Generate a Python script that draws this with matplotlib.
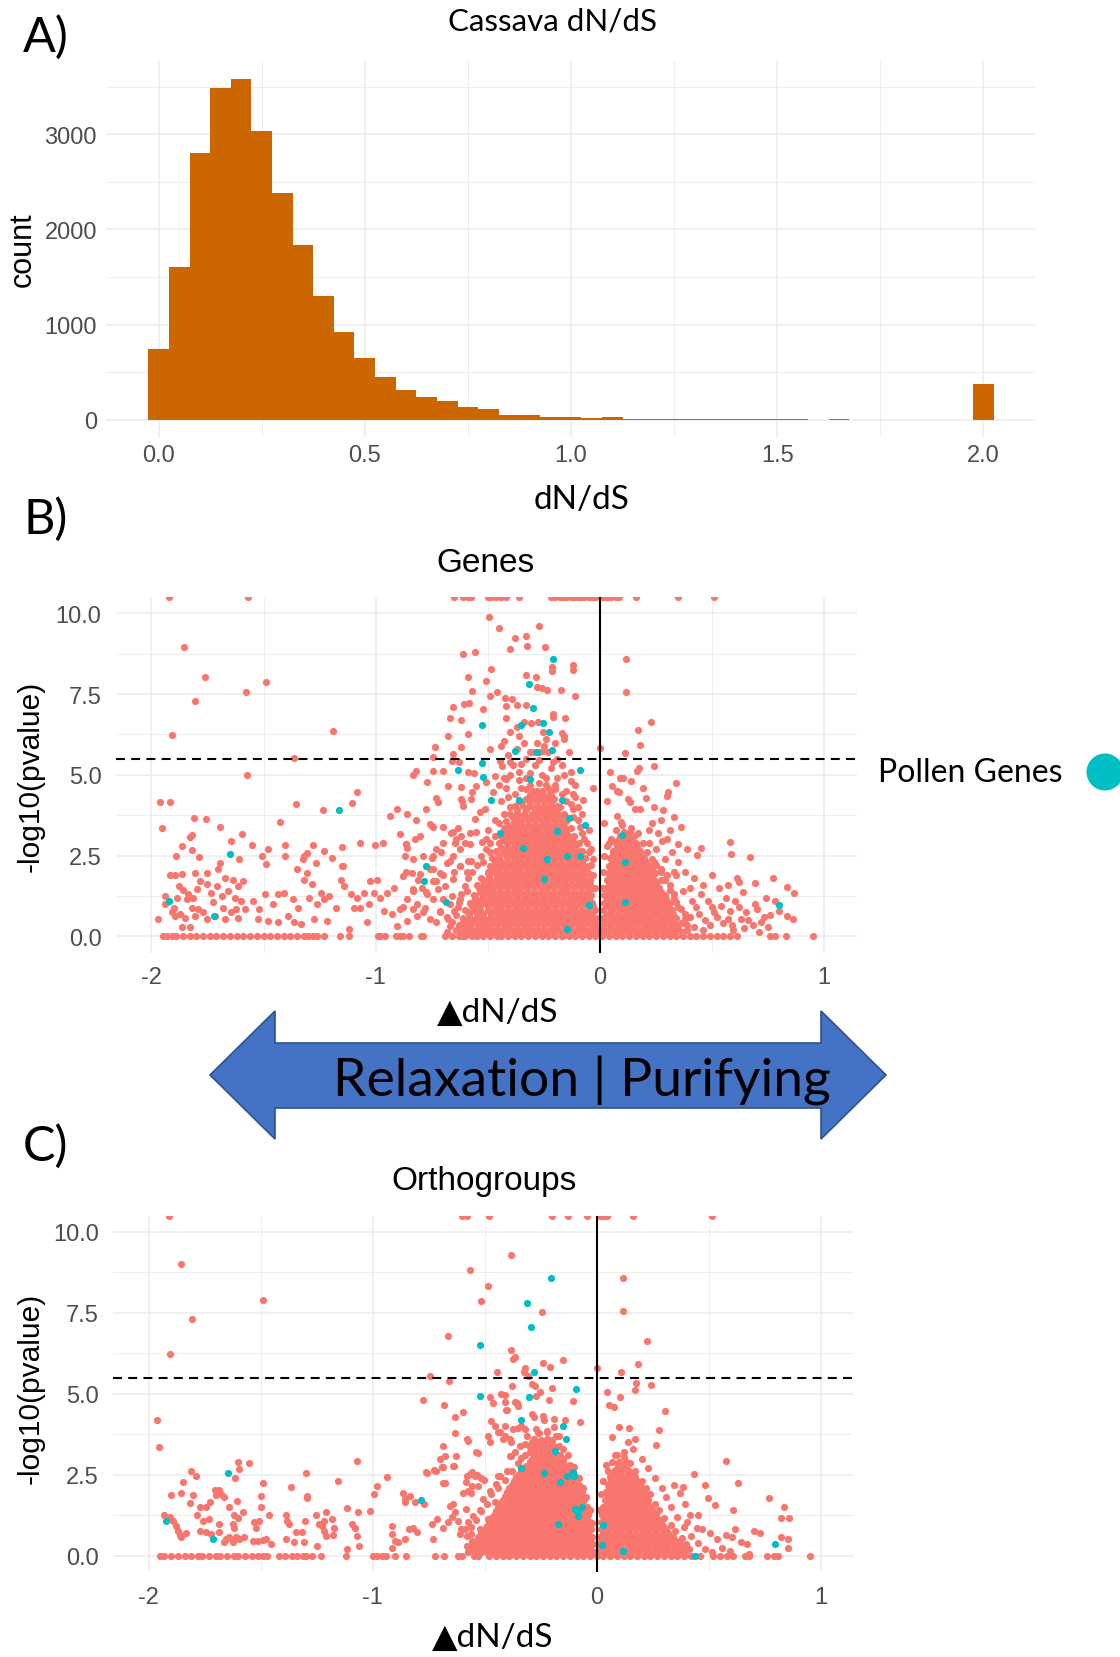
import matplotlib
matplotlib.use("Agg")
import matplotlib.pyplot as plt
from matplotlib.patches import Polygon, Ellipse

plt.rcParams['axes.unicode_minus'] = False

# ---------------- Panel A: histogram of Cassava dN/dS ----------------
hist_centers = [0.00, 0.05, 0.10, 0.15, 0.20, 0.25, 0.30, 0.35, 0.40, 0.45,
                0.50, 0.55, 0.60, 0.65, 0.70, 0.75, 0.80, 0.85, 0.90, 0.95,
                1.00, 1.05, 1.10, 1.15, 1.20, 1.25, 1.30, 1.35, 1.40, 1.45,
                1.50, 1.55, 1.60, 1.65, 1.70, 1.75, 1.80, 1.85, 1.90, 1.95, 2.00]
hist_counts = [746, 1605, 2803, 3486, 3584, 3038, 2386, 1836, 1303, 925,
               652, 455, 315, 238, 193, 130, 116, 56, 56, 32,
               32, 15, 30, 6, 6, 5, 6, 5, 5, 6,
               5, 5, 0, 8, 0, 0, 0, 0, 0, 0, 380]

# ---------------- Panel B: Genes ----------------
genes_top_x = [-1.92, -1.57, -0.65, -0.61, -0.59, -0.575, -0.50, -0.485, -0.465, -0.44,
               -0.42, -0.36, -0.22, -0.20, -0.18, -0.165, -0.15, -0.13, -0.115, -0.10,
               -0.085, -0.07, -0.05, -0.035, -0.02, 0.0, 0.015, 0.03, 0.05, 0.07,
               0.085, 0.16, 0.35, 0.51]
genes_zero_x = [-1.95, -1.93, -1.91, -1.89, -1.86, -1.83, -1.80, -1.77, -1.74, -1.71,
                -1.68, -1.65, -1.62, -1.59, -1.56, -1.53, -1.50, -1.47, -1.44, -1.41,
                -1.38, -1.35, -1.32, -1.30, -1.28, -1.26, -1.23, -1.16, -1.12, -0.99,
                -0.98, -0.96, -0.91, -0.89, -0.88, -0.85, -0.80, -0.79, -0.69, -0.66,
                -0.63, -0.61, -0.60, -0.57, -0.55, -0.52, -0.49, -0.46, -0.44, -0.41,
                -0.38, -0.35, -0.32, -0.29, -0.26, -0.23, -0.20, -0.17, -0.14, -0.11,
                -0.08, -0.05, -0.02, 0.01, 0.04, 0.07, 0.10, 0.13, 0.16, 0.19,
                0.22, 0.25, 0.28, 0.31, 0.34, 0.37, 0.40, 0.43, 0.46, 0.49,
                0.52, 0.55, 0.58, 0.61, 0.76, 0.78, 0.83, 0.95]
# dense left cloud, read row by row: (-log10 p, [delta dN/dS ...])
genes_core_left = [
    (0.12, [-0.62, -0.59, -0.56, -0.53, -0.505, -0.475, -0.445, -0.415, -0.385, -0.355, -0.325, -0.295, -0.265, -0.235, -0.205, -0.175, -0.145, -0.115, -0.085, -0.055, -0.025, -0.008]),
    (0.235, [-0.605, -0.575, -0.545, -0.515, -0.49, -0.46, -0.43, -0.40, -0.37, -0.34, -0.31, -0.28, -0.25, -0.22, -0.19, -0.16, -0.13, -0.10, -0.07, -0.04, -0.02]),
    (0.35, [-0.63, -0.60, -0.575, -0.545, -0.515, -0.49, -0.46, -0.43, -0.40, -0.37, -0.34, -0.31, -0.28, -0.25, -0.22, -0.19, -0.16, -0.13, -0.10, -0.07, -0.04, -0.012]),
    (0.465, [-0.595, -0.565, -0.535, -0.505, -0.475, -0.445, -0.42, -0.39, -0.36, -0.33, -0.30, -0.27, -0.24, -0.21, -0.18, -0.15, -0.12, -0.09, -0.06, -0.03]),
    (0.58, [-0.61, -0.58, -0.55, -0.52, -0.49, -0.46, -0.435, -0.405, -0.375, -0.345, -0.315, -0.285, -0.255, -0.225, -0.195, -0.165, -0.135, -0.105, -0.075, -0.045, -0.018]),
    (0.695, [-0.585, -0.55, -0.52, -0.485, -0.455, -0.425, -0.395, -0.365, -0.335, -0.305, -0.275, -0.245, -0.215, -0.185, -0.155, -0.125, -0.095, -0.065, -0.035]),
    (0.81, [-0.60, -0.565, -0.535, -0.50, -0.47, -0.44, -0.41, -0.38, -0.35, -0.32, -0.29, -0.26, -0.23, -0.20, -0.17, -0.14, -0.11, -0.08, -0.05, -0.022]),
    (0.925, [-0.57, -0.535, -0.50, -0.47, -0.44, -0.41, -0.38, -0.35, -0.32, -0.29, -0.26, -0.23, -0.20, -0.17, -0.14, -0.11, -0.08, -0.05, -0.03]),
    (1.04, [-0.58, -0.55, -0.515, -0.485, -0.455, -0.425, -0.395, -0.365, -0.335, -0.305, -0.275, -0.245, -0.215, -0.185, -0.155, -0.125, -0.095, -0.065, -0.035]),
    (1.155, [-0.555, -0.525, -0.495, -0.465, -0.435, -0.405, -0.375, -0.345, -0.315, -0.285, -0.255, -0.225, -0.195, -0.165, -0.135, -0.105, -0.075, -0.05]),
    (1.27, [-0.56, -0.52, -0.49, -0.46, -0.43, -0.40, -0.37, -0.34, -0.31, -0.28, -0.25, -0.22, -0.19, -0.16, -0.13, -0.10, -0.07, -0.04]),
    (1.385, [-0.535, -0.505, -0.475, -0.445, -0.415, -0.385, -0.355, -0.325, -0.295, -0.265, -0.235, -0.205, -0.175, -0.145, -0.115, -0.085, -0.055]),
    (1.50, [-0.54, -0.505, -0.475, -0.445, -0.415, -0.385, -0.355, -0.325, -0.295, -0.265, -0.235, -0.205, -0.175, -0.145, -0.115, -0.085, -0.055, -0.035]),
    (1.615, [-0.515, -0.485, -0.455, -0.425, -0.395, -0.365, -0.335, -0.305, -0.275, -0.245, -0.215, -0.185, -0.155, -0.125, -0.095, -0.065, -0.045]),
    (1.73, [-0.52, -0.49, -0.46, -0.43, -0.40, -0.37, -0.34, -0.31, -0.28, -0.25, -0.22, -0.19, -0.16, -0.13, -0.10, -0.07, -0.045]),
    (1.845, [-0.495, -0.46, -0.43, -0.40, -0.37, -0.34, -0.31, -0.28, -0.25, -0.22, -0.19, -0.16, -0.13, -0.10, -0.07]),
    (1.96, [-0.50, -0.47, -0.445, -0.415, -0.385, -0.355, -0.325, -0.295, -0.265, -0.235, -0.205, -0.175, -0.145, -0.115, -0.085, -0.055]),
    (2.075, [-0.48, -0.45, -0.42, -0.39, -0.36, -0.33, -0.30, -0.27, -0.24, -0.21, -0.18, -0.15, -0.12, -0.09, -0.065]),
    (2.19, [-0.49, -0.46, -0.43, -0.40, -0.37, -0.34, -0.31, -0.28, -0.25, -0.22, -0.19, -0.16, -0.13, -0.10, -0.07, -0.055]),
    (2.305, [-0.47, -0.44, -0.41, -0.38, -0.35, -0.32, -0.29, -0.26, -0.23, -0.20, -0.17, -0.14, -0.11, -0.08]),
    (2.42, [-0.48, -0.45, -0.415, -0.385, -0.355, -0.325, -0.295, -0.265, -0.235, -0.205, -0.175, -0.145, -0.115, -0.085, -0.065]),
    (2.535, [-0.455, -0.425, -0.395, -0.365, -0.335, -0.305, -0.275, -0.245, -0.215, -0.185, -0.155, -0.125, -0.095]),
    (2.65, [-0.465, -0.43, -0.40, -0.37, -0.34, -0.31, -0.28, -0.25, -0.22, -0.19, -0.16, -0.13, -0.10, -0.08]),
    (2.765, [-0.44, -0.41, -0.38, -0.35, -0.32, -0.29, -0.26, -0.23, -0.20, -0.17, -0.14, -0.11]),
    (2.88, [-0.45, -0.415, -0.385, -0.355, -0.325, -0.295, -0.265, -0.235, -0.205, -0.175, -0.145, -0.115, -0.095]),
    (2.995, [-0.43, -0.40, -0.37, -0.34, -0.31, -0.28, -0.25, -0.22, -0.19, -0.16, -0.13]),
    (3.11, [-0.44, -0.41, -0.38, -0.35, -0.32, -0.29, -0.26, -0.23, -0.20, -0.17, -0.14, -0.115]),
    (3.225, [-0.42, -0.39, -0.36, -0.33, -0.30, -0.27, -0.24, -0.21, -0.18, -0.15]),
    (3.34, [-0.43, -0.395, -0.365, -0.335, -0.305, -0.275, -0.245, -0.215, -0.185, -0.155, -0.13]),
    (3.455, [-0.41, -0.38, -0.35, -0.32, -0.29, -0.26, -0.23, -0.20, -0.17]),
    (3.57, [-0.42, -0.385, -0.35, -0.32, -0.29, -0.26, -0.23, -0.20, -0.17, -0.15]),
    (3.685, [-0.39, -0.36, -0.33, -0.30, -0.27, -0.24, -0.21, -0.18]),
    (3.80, [-0.40, -0.37, -0.34, -0.305, -0.275, -0.245, -0.215, -0.185, -0.16]),
    (3.915, [-0.37, -0.33, -0.29, -0.26, -0.23, -0.20]),
    (4.03, [-0.38, -0.345, -0.31, -0.28, -0.25, -0.22, -0.19]),
    (4.145, [-0.35, -0.31, -0.28, -0.25, -0.22]),
    (4.26, [-0.33, -0.295, -0.265, -0.235, -0.205]),
    (4.375, [-0.31, -0.28, -0.25, -0.22]),
    (4.49, [-0.30, -0.26, -0.225]),
]
genes_core_right = [
    (0.12, [0.008, 0.035, 0.065, 0.095, 0.125, 0.155, 0.185, 0.215, 0.245, 0.275, 0.305, 0.335, 0.365]),
    (0.235, [0.02, 0.05, 0.08, 0.11, 0.14, 0.17, 0.20, 0.23, 0.26, 0.29, 0.32, 0.35]),
    (0.35, [0.012, 0.045, 0.075, 0.105, 0.135, 0.165, 0.195, 0.225, 0.255, 0.285, 0.315, 0.35]),
    (0.465, [0.025, 0.055, 0.085, 0.115, 0.145, 0.175, 0.205, 0.235, 0.265, 0.295, 0.325]),
    (0.58, [0.01, 0.04, 0.07, 0.10, 0.13, 0.16, 0.19, 0.22, 0.25, 0.28, 0.31, 0.34]),
    (0.695, [0.025, 0.055, 0.085, 0.115, 0.145, 0.175, 0.205, 0.235, 0.265, 0.295, 0.325]),
    (0.81, [0.015, 0.05, 0.08, 0.11, 0.14, 0.17, 0.20, 0.23, 0.26, 0.29, 0.32]),
    (0.925, [0.03, 0.06, 0.09, 0.12, 0.15, 0.18, 0.21, 0.24, 0.27, 0.30]),
    (1.04, [0.018, 0.045, 0.075, 0.105, 0.135, 0.165, 0.195, 0.225, 0.255, 0.285, 0.31]),
    (1.155, [0.032, 0.06, 0.09, 0.12, 0.15, 0.18, 0.21, 0.24, 0.27, 0.295]),
    (1.27, [0.02, 0.05, 0.08, 0.11, 0.14, 0.17, 0.20, 0.23, 0.26, 0.29]),
    (1.385, [0.035, 0.065, 0.095, 0.125, 0.155, 0.185, 0.215, 0.245, 0.27]),
    (1.50, [0.025, 0.055, 0.085, 0.115, 0.145, 0.175, 0.205, 0.235, 0.265]),
    (1.615, [0.04, 0.07, 0.10, 0.13, 0.16, 0.19, 0.22, 0.25]),
    (1.73, [0.03, 0.06, 0.09, 0.12, 0.15, 0.18, 0.21, 0.24, 0.27]),
    (1.845, [0.045, 0.075, 0.105, 0.135, 0.165, 0.195, 0.225]),
    (1.96, [0.035, 0.065, 0.095, 0.125, 0.155, 0.185, 0.215, 0.245]),
    (2.075, [0.05, 0.08, 0.11, 0.14, 0.17, 0.20, 0.23]),
    (2.19, [0.04, 0.07, 0.10, 0.13, 0.16, 0.19, 0.22]),
    (2.305, [0.055, 0.085, 0.115, 0.145, 0.175, 0.205]),
    (2.42, [0.045, 0.075, 0.105, 0.135, 0.165, 0.195]),
    (2.535, [0.06, 0.09, 0.12, 0.15, 0.18]),
    (2.65, [0.06, 0.09, 0.12, 0.15, 0.18]),
    (2.765, [0.075, 0.105, 0.135, 0.165]),
    (2.88, [0.07, 0.10, 0.13, 0.16]),
    (2.995, [0.08, 0.11, 0.14]),
    (3.11, [0.09, 0.12, 0.15]),
    (3.225, [0.105, 0.135]),
]
genes_scatter = [
    (-1.855, 8.96), (-1.763, 8.02), (-1.805, 7.28), (-1.578, 7.57), (-1.491, 7.86), (-1.907, 6.22), (-1.192, 6.36),
    (-1.363, 5.53), (-1.572, 4.99), (-1.963, 4.17), (-1.916, 4.17), (-1.357, 4.10), (-1.237, 3.92), (-1.105, 4.14),
    (-1.083, 4.46), (-1.954, 3.35), (-1.81, 3.67), (-1.758, 3.64), (-1.692, 3.38), (-1.428, 3.54), (-1.646, 2.96),
    (-1.596, 3.17), (-1.55, 2.84), (-1.82, 3.15), (-1.827, 3.08), (-1.864, 2.79), (-1.889, 2.48), (-1.82, 2.66),
    (-1.788, 2.46), (-1.692, 2.28), (-1.61, 2.40), (-1.506, 2.50), (-1.491, 2.25), (-1.403, 2.82), (-1.403, 2.50),
    (-1.351, 2.10), (-1.326, 2.38), (-1.319, 2.48), (-1.304, 2.58), (-1.279, 2.82), (-1.23, 2.64), (-1.193, 2.43),
    (-1.152, 2.77), (-1.146, 2.17), (-1.068, 2.89), (-1.001, 2.82), (-0.969, 2.89), (-0.906, 3.94), (-0.935, 3.74),
    (-0.861, 3.79), (-0.82, 3.61), (-0.776, 3.94), (-0.891, 3.18), (-0.866, 2.86), (-0.861, 2.74), (-0.736, 5.87),
    (-0.743, 5.56), (-0.82, 5.13), (-0.773, 4.79), (-0.743, 5.13), (-0.702, 5.13), (-0.677, 4.64), (-0.732, 4.28),
    (-0.72, 4.17), (-0.655, 7.10), (-0.608, 7.18), (-0.584, 7.22), (-0.611, 8.74), (-0.559, 8.79), (-0.59, 8.02),
    (-0.569, 7.61), (-0.667, 6.77), (-0.618, 6.71), (-0.589, 6.28), (-0.655, 5.66), (-0.618, 5.87), (-0.496, 9.89),
    (-0.451, 9.56), (-0.485, 8.28), (-0.507, 7.92), (-0.378, 9.25), (-0.33, 9.30), (-0.327, 9.0), (-0.401, 8.89),
    (-1.481, 2.69), (-1.267, 2.28),
    (-1.97, 0.55), (-1.938, 1.25), (-1.938, 0.99), (-1.9, 0.89), (-1.909, 0.74), (-1.894, 0.64), (-1.872, 0.69),
    (-1.916, 1.89), (-1.894, 1.89), (-1.864, 1.92), (-1.879, 1.56), (-1.857, 1.44), (-1.835, 1.30), (-1.886, 1.20),
    (-1.842, 1.15), (-1.813, 1.20), (-1.82, 0.89), (-1.79, 0.84), (-1.768, 0.74), (-1.85, 0.58), (-1.805, 0.62),
    (-1.754, 0.55), (-1.805, 1.97), (-1.783, 1.71), (-1.754, 1.97), (-1.798, 1.46), (-1.754, 1.61), (-1.732, 1.35),
    (-1.702, 2.07), (-1.673, 1.82), (-1.709, 1.56), (-1.687, 1.25), (-1.658, 1.41), (-1.628, 1.20), (-1.724, 1.05),
    (-1.68, 0.89), (-1.643, 0.74), (-1.717, 0.64), (-1.673, 0.53), (-1.614, 0.58), (-1.636, 1.76), (-1.614, 1.56),
    (-1.591, 1.71), (-1.599, 1.10), (-1.584, 0.84), (-1.621, 0.84), (-1.864, 0.30), (-1.827, 0.28),
    (-1.547, 1.10), (-1.518, 0.84), (-1.525, 0.53), (-1.493, 1.30), (-1.459, 0.99), (-1.437, 1.30), (-1.481, 0.48),
    (-1.437, 0.43), (-1.392, 0.64), (-1.407, 1.35), (-1.37, 1.15), (-1.348, 0.89), (-1.363, 0.43), (-1.333, 0.38),
    (-1.319, 1.76), (-1.304, 1.97), (-1.282, 1.61), (-1.296, 1.20), (-1.26, 0.99), (-1.23, 1.15), (-1.245, 1.35),
    (-1.208, 1.25), (-1.178, 0.89), (-1.274, 0.53), (-1.215, 0.48), (-1.156, 1.76), (-1.142, 1.56), (-1.149, 2.17),
    (-1.112, 1.30), (-1.083, 1.20), (-1.053, 1.35), (-1.097, 0.89), (-1.068, 0.89), (-1.031, 0.99), (-1.119, 0.23),
    (-1.038, 0.43), (-1.024, 1.71), (-0.994, 1.76), (-1.009, 1.35), (-0.979, 1.20), (-0.95, 1.35), (-0.92, 1.51),
    (-0.965, 0.79), (-0.928, 0.69), (-0.891, 0.84), (-0.906, 0.33), (-0.861, 0.48), (-0.876, 1.87), (-0.839, 1.97),
    (-0.81, 1.76), (-0.832, 1.41), (-0.795, 1.51), (-0.773, 1.30), (-0.861, 1.15), (-0.817, 0.99), (-0.78, 0.89),
    (-0.817, 0.64), (-0.758, 0.53), (-0.751, 2.43), (-0.729, 2.69), (-0.699, 2.89), (-0.743, 2.07), (-0.714, 1.97),
    (-0.684, 2.28), (-0.743, 1.71), (-0.72, 1.46), (-0.699, 1.15), (-0.714, 0.74), (-0.677, 0.53), (-0.662, 3.20),
    (-0.633, 3.35), (-0.647, 2.89), (-0.625, 2.69), (-0.603, 2.89), (-0.581, 3.20), (-0.655, 2.48), (-0.625, 2.17),
    (-0.589, 2.33),
    (-0.863, 2.86), (-0.826, 3.01), (-0.804, 3.12), (-0.871, 2.50), (-0.833, 2.39), (-0.789, 2.50), (-0.751, 3.43),
    (-0.699, 3.37), (-0.744, 2.50), (-0.707, 2.60), (-0.67, 2.34), (-0.863, 1.98), (-0.804, 1.93), (-0.759, 2.08),
    (-0.729, 1.72), (-0.692, 1.57), (-0.655, 1.78), (-0.625, 2.19), (-0.595, 1.98), (-0.573, 2.34), (-0.64, 3.01),
    (-0.618, 3.12), (-0.58, 2.86), (-0.551, 3.22), (-0.528, 2.91), (-0.506, 3.01), (-0.558, 3.63), (-0.536, 3.84),
    (-0.513, 3.94), (-0.61, 4.05), (-0.573, 4.25), (-0.551, 4.66), (-0.506, 4.77), (-0.476, 4.46), (-0.469, 4.97),
    (-0.439, 5.28), (-0.417, 4.87), (-0.446, 5.44), (-0.402, 5.39), (-0.833, 1.47), (-0.774, 1.36), (-0.744, 1.16),
    (-0.878, 0.90), (-0.833, 0.85), (-0.789, 0.74), (-0.714, 0.79), (-0.67, 1.00), (-0.632, 0.90), (-0.729, 0.43),
    (-0.67, 0.33), (-0.61, 0.43), (-0.595, 1.41), (-0.558, 1.21), (-0.521, 1.52), (-0.625, 1.16), (-0.588, 0.74),
    (-0.551, 0.85), (-0.68, 0.60), (-0.66, 1.25), (-0.64, 0.20), (-0.70, 1.90), (-0.65, 2.00), (-0.68, 0.15),
    (-0.271, 9.62), (-0.246, 8.97), (-0.214, 8.33), (-0.214, 8.22), (-0.122, 8.40), (-0.122, 8.26), (0.116, 8.59),
    (-0.329, 8.10), (-0.287, 8.04), (-0.28, 7.71), (-0.26, 7.69), (-0.238, 7.64), (-0.458, 7.55), (-0.49, 7.45),
    (-0.173, 7.62), (-0.112, 7.43), (0.116, 7.57), (-0.423, 7.37), (-0.393, 7.34), (-0.417, 7.14), (-0.372, 7.16),
    (-0.33, 7.17), (-0.521, 7.04), (-0.42, 6.75), (-0.208, 6.88), (-0.208, 6.78), (-0.156, 6.75), (-0.402, 6.32),
    (-0.372, 6.47), (-0.339, 6.63), (-0.308, 6.61), (-0.278, 6.63), (-0.253, 6.34), (-0.677, 6.21), (0.226, 6.65),
    (0.17, 6.40), (-0.171, 6.30), (-0.16, 6.19), (-0.427, 6.06), (-0.36, 6.21), (-0.491, 5.80), (-0.31, 5.70),
    (-0.295, 5.72), (-0.27, 5.70), (-0.255, 5.75), (-0.23, 5.70), (0.179, 5.92), (0.0, 5.82), (0.112, 5.68),
    (-0.66, 5.44), (-0.628, 5.41), (-0.833, 4.99), (-0.588, 5.08), (-0.562, 5.06), (0.045, 5.08), (0.167, 5.12),
    (0.174, 5.20), (0.241, 5.26), (-0.618, 4.61), (-0.03, 4.58), (0.055, 4.66), (0.089, 4.91), (0.104, 4.91),
    (0.339, 4.75), (-0.62, 4.25), (-0.617, 4.18), (-0.57, 4.48), (-0.077, 4.23), (0.074, 4.51), (0.083, 4.46),
    (0.126, 4.25), (0.134, 4.17), (0.205, 4.27), (0.298, 4.35), (0.305, 4.46), (-0.759, 3.48), (-0.744, 3.37),
    (-0.655, 3.22), (0.074, 3.72), (0.092, 3.55), (0.156, 3.94), (0.179, 3.94), (0.28, 3.92),
    (-0.40, 5.00), (-0.36, 5.10), (-0.33, 4.90), (-0.29, 5.30), (-0.26, 5.00), (-0.22, 5.20), (-0.19, 4.90),
    (-0.16, 5.00), (-0.13, 4.80), (-0.35, 4.60), (-0.31, 4.70), (-0.27, 4.75), (-0.23, 4.60), (-0.20, 4.70),
    (-0.15, 4.50), (-0.12, 4.40), (-0.38, 4.40), (-0.42, 4.60), (-0.44, 4.20), (-0.41, 4.30), (-0.10, 4.00),
    (-0.12, 3.70), (-0.09, 3.40), (-0.07, 3.00), (-0.05, 2.60), (-0.04, 2.20), (-0.47, 3.60), (-0.50, 3.30),
    (-0.49, 2.60), (-0.52, 2.30), (-0.50, 2.00), (-0.53, 1.80), (-0.55, 1.60), (-0.28, 6.00), (-0.24, 6.10),
    (-0.19, 5.50), (-0.33, 5.50), (-0.37, 5.80), (-0.44, 5.90), (-0.14, 5.70), (-0.20, 6.00),
    (-0.43, 4.90), (-0.39, 5.30), (-0.35, 5.35), (-0.31, 5.05), (-0.27, 5.45), (-0.24, 4.90), (-0.21, 5.40),
    (-0.17, 5.30), (-0.13, 5.10), (-0.11, 4.70), (-0.36, 4.85), (-0.28, 4.50), (-0.45, 4.70), (-0.41, 5.60),
    (-0.25, 5.90), (-0.16, 6.10), (-0.34, 6.00),
    (-0.08, 3.20), (-0.06, 2.90), (-0.10, 3.60), (-0.08, 3.80), (-0.05, 3.30), (-0.04, 2.70), (-0.03, 2.40),
    (-0.03, 1.90), (-0.02, 1.50), (-0.13, 4.10), (-0.11, 4.30), (-0.17, 4.40), (-0.15, 4.20), (-0.36, 4.20),
    (-0.40, 4.00), (-0.43, 3.80), (-0.45, 3.50), (-0.47, 3.10), (-0.49, 2.90), (-0.51, 2.70), (-0.53, 2.50),
    (-0.55, 2.20), (-0.57, 2.00), (-0.59, 1.80), (-0.60, 1.55), (-0.62, 1.30), (-0.63, 1.05), (-0.65, 0.80),
    (-0.66, 0.45), (-0.64, 0.65), (-0.33, 4.55), (-0.20, 4.55), (-0.24, 4.70), (-0.18, 4.00), (-0.12, 3.95),
    (0.278, 2.96), (0.58, 2.93), (0.583, 2.54), (0.449, 2.72), (0.67, 2.45), (0.432, 2.52), (0.771, 1.80),
    (0.833, 1.52), (0.863, 1.33), (0.836, 0.62), (0.86, 0.54), (0.595, 0.21), (0.689, 1.64), (0.637, 1.36),
    (0.62, 1.69), (0.23, 3.50), (0.26, 3.20), (0.30, 3.00), (0.22, 2.90), (0.25, 2.70), (0.32, 2.60), (0.35, 2.30),
    (0.29, 2.40), (0.38, 2.00), (0.34, 1.90), (0.42, 1.80), (0.40, 1.50), (0.45, 1.30), (0.37, 1.40), (0.48, 1.10),
    (0.50, 0.90), (0.43, 0.90), (0.52, 0.60), (0.47, 0.50), (0.55, 0.40), (0.40, 0.60), (0.58, 0.77), (0.62, 0.90),
    (0.65, 0.75), (0.70, 0.85), (0.66, 0.50), (0.73, 0.60), (0.69, 1.00), (0.53, 1.50), (0.56, 1.20), (0.60, 1.10),
    (0.75, 0.30), (0.64, 0.25), (0.71, 0.15), (0.36, 3.40), (0.33, 3.70), (0.14, 4.80), (0.19, 4.60), (0.24, 4.00),
    (0.03, 4.20), (0.02, 3.50), (0.04, 2.90), (0.22, 3.30),
    (0.31, 1.60), (0.33, 1.20), (0.35, 0.90), (0.38, 0.70), (0.36, 0.40), (0.39, 0.20), (0.41, 1.10), (0.44, 0.70),
    (0.42, 0.30), (0.46, 0.20), (0.49, 0.35), (0.51, 0.75), (0.54, 0.95), (0.57, 0.55), (0.59, 0.35), (0.63, 0.55),
    (0.68, 0.35), (0.72, 0.45), (0.76, 0.65), (0.80, 0.80), (0.78, 1.10), (0.74, 1.20), (0.61, 1.80), (0.57, 1.60),
    (0.50, 1.90), (0.46, 1.60), (0.39, 2.70), (0.35, 2.85), (0.31, 3.30), (0.27, 3.60), (0.24, 2.30), (0.27, 2.10),
    (0.30, 1.90), (0.33, 2.00),
    (0.01, 1.50), (0.015, 2.00), (0.02, 2.50), (0.03, 2.80), (0.05, 3.00), (0.07, 3.30), (0.10, 3.45), (0.14, 3.35),
    (0.17, 3.20), (0.19, 2.90), (0.21, 2.60), (0.23, 2.40), (0.25, 2.20), (0.27, 2.00), (0.29, 1.75), (0.31, 1.45),
    (0.33, 1.30), (0.34, 1.05), (0.36, 0.85), (0.38, 0.55), (0.39, 0.35),
]
genes_pollen = [
    (-1.92, 1.10), (-1.72, 0.62), (-1.65, 2.56), (-1.165, 3.90), (-0.775, 2.19), (-0.785, 1.71), (-0.687, 1.05),
    (-0.631, 5.14), (-0.527, 5.37), (-0.523, 4.93), (-0.525, 6.54), (-0.487, 4.22), (-0.445, 3.19), (-0.38, 5.73),
    (-0.363, 4.21), (-0.352, 6.54), (-0.342, 2.72), (-0.317, 7.80), (-0.31, 4.88), (-0.299, 7.06), (-0.28, 5.70),
    (-0.253, 6.61), (-0.249, 1.78), (-0.235, 2.39), (-0.226, 6.34), (-0.216, 5.78), (-0.211, 8.59), (-0.19, 3.27),
    (-0.171, 4.23), (-0.149, 2.48), (-0.149, 0.23), (-0.137, 3.65), (-0.089, 5.16), (-0.089, 2.48), (-0.065, 3.45),
    (-0.049, 0.97), (0.097, 3.14), (0.112, 2.31), (0.112, 1.07), (0.796, 0.97),
]

# ---------------- Panel C: Orthogroups ----------------
ortho_top_x = [-1.91, -0.60, -0.58, -0.48, -0.20, -0.13, -0.045, 0.015, 0.03, 0.045, 0.16, 0.515]
ortho_zero_x = [-1.95, -1.93, -1.90, -1.87, -1.84, -1.81, -1.78, -1.76, -1.73, -1.70, -1.68, -1.65, -1.62,
                -1.60, -1.57, -1.54, -1.51, -1.49, -1.47, -1.42, -1.39, -1.36, -1.34, -1.31, -1.30, -1.27,
                -1.23, -1.12, -1.00, -0.98, -0.96, -0.94, -0.90, -0.85, -0.72, -0.68, -0.62, -0.60, -0.55,
                -0.53, -0.48, -0.45, -0.42, -0.39, -0.36, -0.33, -0.30, -0.27, -0.24, -0.21, -0.18, -0.15,
                -0.12, -0.09, -0.06, -0.03, 0.0, 0.03, 0.06, 0.09, 0.12, 0.15, 0.18, 0.21, 0.24, 0.27, 0.30,
                0.33, 0.36, 0.39, 0.42, 0.46, 0.52, 0.55, 0.58, 0.61, 0.66, 0.68, 0.76, 0.79, 0.81, 0.95]
ortho_core_left = [
    (0.12, [-0.575, -0.545, -0.515, -0.49, -0.46, -0.43, -0.40, -0.37, -0.34, -0.31, -0.28, -0.25, -0.22, -0.19, -0.16, -0.13, -0.10, -0.07, -0.04, -0.012]),
    (0.235, [-0.56, -0.53, -0.50, -0.475, -0.445, -0.415, -0.385, -0.355, -0.325, -0.295, -0.265, -0.235, -0.205, -0.175, -0.145, -0.115, -0.085, -0.055, -0.03]),
    (0.35, [-0.555, -0.525, -0.495, -0.465, -0.435, -0.405, -0.375, -0.345, -0.315, -0.285, -0.255, -0.225, -0.195, -0.165, -0.135, -0.105, -0.075, -0.045, -0.015]),
    (0.465, [-0.54, -0.51, -0.48, -0.45, -0.42, -0.39, -0.36, -0.33, -0.30, -0.27, -0.24, -0.21, -0.18, -0.15, -0.12, -0.09, -0.06, -0.035]),
    (0.58, [-0.53, -0.50, -0.47, -0.44, -0.41, -0.38, -0.35, -0.32, -0.29, -0.26, -0.23, -0.20, -0.17, -0.14, -0.11, -0.08, -0.05, -0.02]),
    (0.695, [-0.515, -0.485, -0.455, -0.425, -0.395, -0.365, -0.335, -0.305, -0.275, -0.245, -0.215, -0.185, -0.155, -0.125, -0.095, -0.065, -0.04]),
    (0.81, [-0.50, -0.475, -0.445, -0.415, -0.385, -0.355, -0.325, -0.295, -0.265, -0.235, -0.205, -0.175, -0.145, -0.115, -0.085, -0.055, -0.025]),
    (0.925, [-0.49, -0.46, -0.43, -0.40, -0.37, -0.34, -0.31, -0.28, -0.25, -0.22, -0.19, -0.16, -0.13, -0.10, -0.07, -0.045]),
    (1.04, [-0.48, -0.45, -0.42, -0.39, -0.36, -0.33, -0.30, -0.27, -0.24, -0.21, -0.18, -0.15, -0.12, -0.09, -0.06, -0.03]),
    (1.155, [-0.47, -0.44, -0.41, -0.38, -0.35, -0.32, -0.29, -0.26, -0.23, -0.20, -0.17, -0.14, -0.11, -0.08, -0.05]),
    (1.27, [-0.46, -0.43, -0.40, -0.37, -0.34, -0.31, -0.28, -0.25, -0.22, -0.19, -0.16, -0.13, -0.10, -0.07, -0.04]),
    (1.385, [-0.45, -0.42, -0.39, -0.36, -0.33, -0.30, -0.27, -0.24, -0.21, -0.18, -0.15, -0.12, -0.09, -0.06]),
    (1.50, [-0.44, -0.41, -0.38, -0.35, -0.32, -0.29, -0.26, -0.23, -0.20, -0.17, -0.14, -0.11, -0.08, -0.045]),
    (1.615, [-0.43, -0.40, -0.37, -0.34, -0.31, -0.28, -0.25, -0.22, -0.19, -0.16, -0.13, -0.10, -0.07]),
    (1.73, [-0.42, -0.39, -0.36, -0.33, -0.30, -0.27, -0.24, -0.21, -0.18, -0.15, -0.12, -0.09, -0.055]),
    (1.845, [-0.41, -0.38, -0.35, -0.32, -0.29, -0.26, -0.23, -0.20, -0.17, -0.14, -0.11, -0.08]),
    (1.96, [-0.40, -0.37, -0.34, -0.31, -0.28, -0.25, -0.22, -0.19, -0.16, -0.13, -0.10, -0.065]),
    (2.075, [-0.39, -0.36, -0.33, -0.30, -0.27, -0.24, -0.21, -0.18, -0.15, -0.12, -0.09]),
    (2.19, [-0.38, -0.35, -0.32, -0.29, -0.26, -0.23, -0.20, -0.17, -0.14, -0.11, -0.08]),
    (2.305, [-0.37, -0.34, -0.31, -0.28, -0.25, -0.22, -0.19, -0.16, -0.13, -0.10]),
    (2.42, [-0.36, -0.33, -0.30, -0.27, -0.24, -0.21, -0.18, -0.15, -0.12, -0.095]),
    (2.535, [-0.345, -0.315, -0.285, -0.255, -0.225, -0.195, -0.165, -0.135, -0.11]),
    (2.65, [-0.33, -0.30, -0.27, -0.24, -0.21, -0.18, -0.15, -0.12]),
    (2.765, [-0.315, -0.285, -0.255, -0.225, -0.195, -0.165, -0.135]),
    (2.88, [-0.30, -0.27, -0.24, -0.21, -0.18, -0.15]),
    (2.995, [-0.29, -0.26, -0.23, -0.20, -0.17]),
    (3.11, [-0.28, -0.25, -0.22, -0.19, -0.165]),
    (3.225, [-0.275, -0.245, -0.215, -0.19]),
    (3.34, [-0.27, -0.24, -0.21, -0.18]),
    (3.455, [-0.26, -0.23, -0.20]),
    (3.57, [-0.25, -0.22, -0.20]),
]
ortho_core_right = [
    (0.12, [0.008, 0.035, 0.065, 0.095, 0.125, 0.155, 0.185, 0.215, 0.245, 0.275, 0.305, 0.335, 0.365, 0.395]),
    (0.235, [0.02, 0.05, 0.08, 0.11, 0.14, 0.17, 0.20, 0.23, 0.26, 0.29, 0.32, 0.35, 0.38]),
    (0.35, [0.012, 0.045, 0.075, 0.105, 0.135, 0.165, 0.195, 0.225, 0.255, 0.285, 0.315, 0.345, 0.37]),
    (0.465, [0.025, 0.055, 0.085, 0.115, 0.145, 0.175, 0.205, 0.235, 0.265, 0.295, 0.325, 0.355]),
    (0.58, [0.015, 0.04, 0.07, 0.10, 0.13, 0.16, 0.19, 0.22, 0.25, 0.28, 0.31, 0.34]),
    (0.695, [0.03, 0.055, 0.085, 0.115, 0.145, 0.175, 0.205, 0.235, 0.265, 0.295, 0.32]),
    (0.81, [0.018, 0.05, 0.08, 0.11, 0.14, 0.17, 0.20, 0.23, 0.26, 0.29, 0.31]),
    (0.925, [0.03, 0.06, 0.09, 0.12, 0.15, 0.18, 0.21, 0.24, 0.27, 0.295]),
    (1.04, [0.02, 0.045, 0.075, 0.105, 0.135, 0.165, 0.195, 0.225, 0.255, 0.285]),
    (1.155, [0.035, 0.06, 0.09, 0.12, 0.15, 0.18, 0.21, 0.24, 0.27]),
    (1.27, [0.025, 0.055, 0.085, 0.115, 0.145, 0.175, 0.205, 0.235, 0.265]),
    (1.385, [0.04, 0.07, 0.10, 0.13, 0.16, 0.19, 0.22, 0.25]),
    (1.50, [0.03, 0.06, 0.09, 0.12, 0.15, 0.18, 0.21, 0.24]),
    (1.615, [0.045, 0.075, 0.105, 0.135, 0.165, 0.195, 0.225]),
    (1.73, [0.035, 0.065, 0.095, 0.125, 0.155, 0.185, 0.215, 0.23]),
    (1.845, [0.05, 0.08, 0.11, 0.14, 0.17, 0.20, 0.22]),
    (1.96, [0.04, 0.07, 0.10, 0.13, 0.16, 0.19, 0.21]),
    (2.075, [0.055, 0.085, 0.115, 0.145, 0.175, 0.20]),
    (2.19, [0.05, 0.08, 0.11, 0.14, 0.17, 0.19]),
    (2.305, [0.065, 0.095, 0.125, 0.155, 0.18]),
    (2.42, [0.06, 0.09, 0.12, 0.15, 0.17]),
    (2.535, [0.075, 0.105, 0.135, 0.16]),
    (2.65, [0.08, 0.11, 0.14]),
    (2.765, [0.095, 0.125]),
    (2.88, [0.10, 0.13]),
]
ortho_scatter = [
    (-1.855, 9.0), (-1.808, 7.30), (-1.492, 7.89), (-1.907, 6.22), (-1.962, 4.19), (-1.954, 3.36), (-0.381, 9.29),
    (-0.564, 8.82), (-0.485, 8.31), (-0.518, 7.85), (-0.666, 6.77), (-0.743, 5.56), (-0.66, 5.40), (-0.445, 5.66),
    (-0.381, 6.35), (-0.374, 6.07), (-0.367, 6.12), (-0.322, 5.78), (-0.325, 5.66), (-0.377, 5.25), (-0.774, 4.80),
    (-0.682, 4.65), (-0.633, 4.29), (-0.596, 4.44), (-0.633, 3.79), (-0.577, 3.60), (-0.574, 3.53), (-0.688, 3.40),
    (-0.537, 3.19), (-0.70, 3.0), (-0.678, 3.07), (-0.641, 2.78), (-0.763, 2.57), (-0.725, 2.65), (-0.691, 2.75),
    (-0.478, 4.89), (-0.463, 4.71), (-0.426, 4.99), (-0.47, 4.15), (-0.456, 4.01), (-0.411, 4.01), (-0.485, 3.70),
    (-0.478, 3.50), (-0.44, 3.81), (-0.418, 3.60), (-0.411, 4.73), (-0.404, 4.51), (-0.367, 4.73), (-0.337, 4.01),
    (-0.322, 3.91), (-0.381, 3.50), (-0.344, 3.40), (-0.381, 3.09), (-0.337, 3.03),
    (-0.246, 7.53), (0.116, 8.57), (0.116, 7.56), (0.224, 6.62), (-0.149, 6.05), (-0.239, 5.95), (-0.209, 5.81),
    (0.184, 5.91), (-0.309, 5.56), (0.003, 5.80), (0.109, 5.66), (0.176, 5.33), (0.169, 5.11), (0.242, 5.27),
    (-0.291, 5.30), (-0.276, 5.25), (-0.201, 5.17), (-0.254, 5.04), (-0.269, 4.94), (0.045, 5.04), (-0.41, 4.97),
    (-0.358, 4.71), (-0.351, 4.63), (-0.40, 4.51), (-0.212, 4.80), (-0.107, 4.78), (0.104, 4.91), (0.057, 4.65),
    (0.078, 4.58), (0.303, 4.48), (-0.288, 4.37), (-0.28, 4.27), (-0.242, 4.32), (-0.236, 4.20), (-0.191, 4.22),
    (-0.142, 4.20), (-0.075, 4.12), (-0.376, 3.91), (-0.351, 3.93), (0.101, 3.96), (0.142, 3.93), (0.276, 3.89),
    (-0.433, 3.83), (-0.41, 3.70), (-0.388, 3.60), (-0.313, 3.70), (-0.321, 3.45), (-0.269, 3.91), (-0.257, 3.79),
    (-0.224, 3.83), (-0.191, 3.96), (0.07, 3.67), (0.263, 3.43), (-0.53, 3.17), (-0.627, 3.07), (-0.687, 2.75),
    (-0.639, 2.78), (-0.757, 2.55), (-0.719, 2.62), (-0.679, 2.24), (-0.564, 2.52), (-0.534, 2.49), (-0.504, 2.35),
    (-0.433, 2.47), (-0.388, 3.09), (-0.366, 3.19), (0.433, 2.52), (0.575, 2.91), (0.485, 2.18), (0.631, 2.24),
    (0.769, 1.77), (0.496, 1.77), (0.527, 1.56), (0.609, 1.42), (0.836, 1.49), (0.821, 1.15), (0.858, 1.15),
    (0.619, 0.82), (0.701, 0.77), (0.728, 0.70), (0.821, 0.59), (0.854, 0.51), (0.854, 0.23), (0.537, 0.51),
    (0.575, 0.64), (0.604, 0.57), (0.642, 0.41), (0.672, 0.36), (0.679, 0.05), (0.485, 0.21), (0.515, 0.10),
    (0.56, 0.23), (0.597, 0.15), (0.385, 2.11), (0.396, 1.59), (0.418, 1.26), (0.451, 1.26), (0.403, 1.03),
    (0.448, 0.87), (0.47, 0.82), (0.507, 0.70), (0.343, 2.18), (0.373, 1.93),
    (-0.30, 3.20), (-0.26, 3.40), (-0.22, 3.60), (-0.17, 3.40), (-0.15, 3.00), (-0.12, 2.80), (-0.10, 2.50),
    (-0.30, 2.90), (-0.34, 2.70), (-0.40, 2.60), (-0.45, 2.20), (-0.08, 2.00), (-0.06, 1.70), (-0.17, 3.70),
    (-0.29, 3.50), (0.20, 3.00), (0.23, 2.70), (0.26, 2.40), (0.29, 2.10), (0.31, 1.80), (0.33, 1.50), (0.36, 1.20),
    (0.39, 0.90), (0.42, 0.60), (0.45, 0.40), (0.41, 0.20), (0.12, 3.20), (0.16, 3.30), (0.08, 3.10), (0.04, 2.80),
    (0.03, 2.30), (0.17, 3.60), (0.14, 3.50),
    (-0.58, 0.60), (-0.56, 0.90), (-0.54, 1.10), (-0.52, 1.40), (-0.49, 1.60), (-0.47, 1.90), (-0.44, 2.10),
    (-0.41, 2.35), (-0.38, 2.60), (-0.35, 2.85), (-0.32, 3.10), (-0.30, 3.35), (-0.28, 3.60), (-0.26, 3.80),
    (-0.22, 3.85), (-0.18, 3.70), (-0.15, 3.30), (-0.13, 3.10), (-0.10, 2.75), (-0.08, 2.40), (-0.06, 2.10),
    (-0.05, 1.80), (-0.03, 1.40), (-0.02, 1.00),
    (0.01, 1.40), (0.02, 1.90), (0.03, 2.30), (0.05, 2.60), (0.07, 2.90), (0.09, 3.10), (0.12, 3.05), (0.15, 2.85),
    (0.17, 2.60), (0.20, 2.30), (0.22, 2.10), (0.24, 1.90), (0.26, 1.60), (0.28, 1.40), (0.30, 1.15), (0.33, 0.95),
    (0.35, 0.75), (0.38, 0.55), (0.40, 0.35),
    (-1.81, 2.62), (-1.791, 2.47), (-1.845, 2.26), (-1.855, 1.95), (-1.90, 1.88), (-1.803, 1.88), (-1.818, 1.63),
    (-1.933, 1.26), (-1.907, 1.18), (-1.892, 1.08), (-1.88, 0.93), (-1.87, 0.77), (-1.855, 0.57), (-1.833, 0.70),
    (-1.862, 0.64), (-1.784, 1.26), (-1.769, 1.49), (-1.744, 1.49), (-1.725, 1.65), (-1.759, 1.08), (-1.729, 1.13),
    (-1.773, 0.77), (-1.744, 0.74), (-1.722, 0.67), (-1.688, 0.72), (-1.688, 0.98), (-1.70, 1.87), (-1.677, 1.90),
    (-1.662, 1.80), (-1.685, 2.03), (-1.704, 2.03), (-1.655, 0.51), (-1.64, 0.57), (-1.61, 0.57), (-1.596, 0.53),
    (-1.574, 0.57), (-1.662, 0.41), (-1.625, 0.41), (-1.643, 1.49), (-1.606, 1.70), (-1.618, 1.26), (-1.603, 1.15),
    (-1.625, 0.98), (-1.618, 0.84), (-1.581, 1.34), (-1.60, 2.88), (-1.596, 2.67), (-1.554, 2.85), (-1.615, 2.39),
    (-1.529, 1.03), (-1.522, 0.87), (-1.507, 1.08), (-1.50, 1.49), (-1.536, 0.46), (-1.514, 0.46), (-1.489, 0.48),
    (-1.477, 0.51), (-1.50, 1.85), (-1.492, 2.24), (-1.463, 1.26), (-1.455, 0.36), (-1.388, 1.26), (-1.381, 1.08),
    (-1.374, 0.98), (-1.366, 2.11), (-1.388, 0.51), (-1.351, 0.41), (-1.344, 0.72), (-1.317, 0.74), (-1.307, 0.43),
    (-1.303, 1.08), (-1.30, 2.55), (-1.292, 1.85), (-1.292, 1.77), (-1.255, 1.26), (-1.248, 0.31), (-1.24, 0.98),
    (-1.228, 0.93), (-1.218, 1.08), (-1.208, 1.34), (-1.218, 0.77), (-1.208, 0.62), (-1.181, 1.13), (-1.174, 0.87),
    (-1.177, 0.64), (-1.155, 2.31), (-1.114, 1.46), (-1.114, 0.21), (-1.092, 0.98), (-1.077, 0.84), (-1.07, 0.62),
    (-1.063, 0.31), (-1.069, 2.91), (-1.066, 1.34), (-1.014, 1.39), (-0.996, 1.90), (-0.981, 2.14), (-0.937, 2.42),
    (-0.915, 0.93), (-0.915, 0.67), (-0.90, 0.46), (-0.885, 0.41), (-0.855, 0.53), (-0.915, 0.23), (-0.863, 1.95),
    (-0.855, 1.75), (-0.833, 1.85), (-0.811, 1.67), (-0.855, 1.65), (-0.838, 0.82), (-0.818, 0.87), (-0.803, 0.72),
    (-0.769, 1.59), (-0.737, 0.98), (-0.715, 1.13), (-0.729, 0.51), (-0.688, 2.24), (-0.656, 1.54), (-0.641, 1.59),
    (-0.685, 0.87), (-0.663, 1.03), (-0.648, 1.18), (-0.633, 1.34), (-0.618, 1.08), (-0.604, 0.82), (-0.574, 1.03),
    (-0.611, 0.67), (-0.581, 0.31), (-0.559, 0.46), (-0.596, 1.95), (-0.574, 2.01), (-0.559, 2.16), (-0.544, 2.47),
    (-0.515, 2.39), (-0.581, 2.47), (-0.559, 2.57), (-0.44, 2.47),
    (-0.582, 2.26), (-0.56, 1.95), (-0.53, 2.16), (-0.507, 1.75), (-0.478, 2.01), (-0.455, 1.65), (-0.582, 1.44),
    (-0.552, 1.23), (-0.515, 1.39), (-0.485, 1.13), (-0.448, 1.29), (-0.59, 0.82), (-0.56, 0.67), (-0.522, 0.82),
    (-0.493, 0.51), (-0.463, 0.72), (-0.433, 0.46), (-0.537, 0.31), (-0.478, 0.21),
]
ortho_pollen = [
    (-1.648, 2.55), (-1.922, 1.08), (-1.714, 0.53), (-0.784, 1.73), (-0.522, 6.51), (-0.519, 4.94), (-0.31, 7.81),
    (-0.294, 7.05), (-0.279, 5.66), (-0.301, 4.89), (-0.336, 4.19), (-0.336, 2.71), (-0.236, 2.55), (-0.206, 8.56),
    (-0.187, 3.24), (-0.164, 2.26), (-0.149, 3.99), (-0.139, 3.60), (-0.134, 2.47), (-0.104, 2.57), (-0.101, 2.47),
    (-0.093, 5.14), (-0.097, 1.44), (-0.09, 1.39), (-0.082, 1.23), (-0.067, 1.49), (-0.175, 0.98), (0.027, 0.95),
    (0.022, 0.33), (0.116, 0.15), (0.44, 0.0), (0.794, 0.36),
]

TOP_CAP = 10.5          # -log10(p) values beyond the panel are drawn at its upper edge
SIG_LINE = 5.5          # dashed significance threshold

# ---------------- helpers ----------------
W, H = 1120, 1658
fig = plt.figure(figsize=(W / 100, H / 100), dpi=100)
fig.patch.set_facecolor('white')

SANS = ['Liberation Sans', 'Arial', 'DejaVu Sans']
HUM = ['Lato', 'DejaVu Sans']
GRID = '#EBEBEB'
TICKC = '#4D4D4D'
RED = '#F8766D'
CYAN = '#00BFC4'


def add_ax(l, t, r, b):
    return fig.add_axes([l / W, 1 - b / H, (r - l) / W, (b - t) / H])


def ftext(x, y, s, **kw):
    return fig.text(x / W, 1 - y / H, s, **kw)


def style(ax, xmaj, xmin, ymaj, ymin, xlabels, ylabels, xpad, ypad):
    for sp in ax.spines.values():
        sp.set_visible(False)
    ax.set_xticks(xmaj)
    ax.set_xticks(xmin, minor=True)
    ax.set_yticks(ymaj)
    ax.set_yticks(ymin, minor=True)
    ax.set_xticklabels(xlabels)
    ax.set_yticklabels(ylabels)
    ax.tick_params(which='both', length=0)
    ax.tick_params(axis='x', pad=xpad, labelsize=17, labelcolor=TICKC)
    ax.tick_params(axis='y', pad=ypad, labelsize=17, labelcolor=TICKC)
    for lab in ax.get_xticklabels() + ax.get_yticklabels():
        lab.set_fontfamily(SANS)
    ax.grid(which='major', color=GRID, linewidth=1.1)
    ax.grid(which='minor', color=GRID, linewidth=0.6)
    ax.set_axisbelow(True)


def collect(top_x, zero_x, core_left, core_right, scatter):
    xs, ys = [], []
    for x in top_x:
        xs.append(x); ys.append(TOP_CAP)
    for x in zero_x:
        xs.append(x); ys.append(0.0)
    for yv, row in core_left + core_right:
        for x in row:
            xs.append(x); ys.append(yv)
    for x, yv in scatter:
        xs.append(x); ys.append(yv)
    return xs, ys


def volcano(ax, xs, ys, pollen):
    ax.set_xlim(-2.16, 1.145)
    ax.set_ylim(-0.5, 10.5)
    ax.scatter(xs, ys, s=27, color=RED, linewidths=0, zorder=2)
    ax.scatter([p[0] for p in pollen], [p[1] for p in pollen], s=27, color=CYAN,
               linewidths=0, zorder=2.5)
    ax.axhline(SIG_LINE, color='black', linewidth=1.5, dashes=(4.3, 3.0), zorder=3)
    ax.axvline(0, color='black', linewidth=1.5, zorder=3)
    style(ax, [-2, -1, 0, 1], [-1.5, -0.5, 0.5], [0, 2.5, 5, 7.5, 10],
          [1.25, 3.75, 6.25, 8.75], ['-2', '-1', '0', '1'],
          ['0.0', '2.5', '5.0', '7.5', '10.0'], 10, 10)


# ---------------- Panel A ----------------
axA = add_ax(106, 61, 1036, 438)
axA.bar(hist_centers, hist_counts, width=0.05, color='#CC6600', linewidth=0, zorder=2)
axA.set_xlim(-0.1275, 2.1275)
axA.set_ylim(-180, 3780)
style(axA, [0, 0.5, 1.0, 1.5, 2.0], [0.25, 0.75, 1.25, 1.75], [0, 1000, 2000, 3000],
      [500, 1500, 2500, 3500], ['0.0', '0.5', '1.0', '1.5', '2.0'],
      ['0', '1000', '2000', '3000'], 5, 6.5)

ftext(23, 37, 'A)', fontsize=35, family=HUM, ha='left', va='center')
ftext(552, 22, 'Cassava dN/dS', fontsize=22.5, family=HUM, ha='center', va='center')
ftext(23, 250, 'count', fontsize=22, family=SANS, rotation=90, ha='center', va='center')
ftext(582, 500, 'dN/dS', fontsize=24, family=HUM, ha='center', va='center')

# ---------------- Panel B ----------------
axB = add_ax(115.5, 598.2, 856.8, 953.5)
bx, by = collect(genes_top_x, genes_zero_x, genes_core_left, genes_core_right, genes_scatter)
volcano(axB, bx, by, genes_pollen)

ftext(23, 519, 'B)', fontsize=35, family=HUM, ha='left', va='center')
ftext(486, 564, 'Genes', fontsize=24, family=SANS, ha='center', va='center')
ftext(31, 776, '-log10(pvalue)', fontsize=21.5, family=SANS, rotation=90, ha='center', va='center')
ftext(498, 1013, '\u25B2dN/dS', fontsize=24, family=HUM, ha='center', va='center')

# Pollen genes key
ftext(878, 773, 'Pollen Genes', fontsize=23, family=HUM, ha='left', va='center')
fig.patches.append(Ellipse((1105 / W, 1 - 773 / H), 37 / W, 37 / H, transform=fig.transFigure,
                           facecolor=CYAN, edgecolor='none'))

# Double arrow
arrow_px = [(210, 1076), (275, 1012), (275, 1044), (821, 1044), (821, 1012), (886, 1076),
            (821, 1140), (821, 1109), (275, 1109), (275, 1140)]
fig.patches.append(Polygon([(x / W, 1 - y / H) for x, y in arrow_px], closed=True,
                           transform=fig.transFigure, facecolor='#4472C4',
                           edgecolor='#2F528F', linewidth=1.2))
ftext(582, 1097, 'Relaxation | Purifying', fontsize=38.5, family=HUM, ha='center',
      va='baseline')

# ---------------- Panel C ----------------
axC = add_ax(112.9, 1216.5, 853.2, 1572.9)
cx, cy = collect(ortho_top_x, ortho_zero_x, ortho_core_left, ortho_core_right, ortho_scatter)
volcano(axC, cx, cy, ortho_pollen)

ftext(23, 1146, 'C)', fontsize=35, family=HUM, ha='left', va='center')
ftext(484, 1182, 'Orthogroups', fontsize=24, family=SANS, ha='center', va='center')
ftext(31, 1388, '-log10(pvalue)', fontsize=21.5, family=SANS, rotation=90, ha='center', va='center')
ftext(493, 1638, '\u25B2dN/dS', fontsize=24, family=HUM, ha='center', va='center')

fig.savefig('out.png', dpi=100, facecolor='white')
